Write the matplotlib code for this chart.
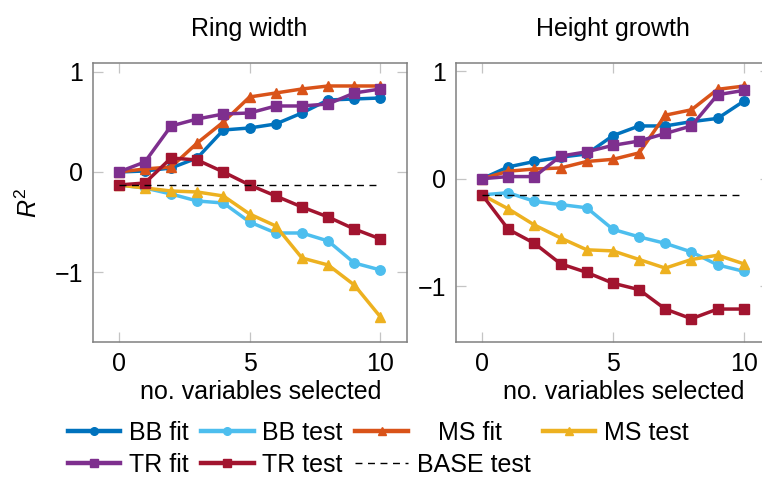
import numpy as np
import matplotlib
matplotlib.use("Agg")
import matplotlib.pyplot as plt

plt.rcParams['font.family'] = ['Liberation Sans', 'DejaVu Sans']
plt.rcParams['mathtext.fontset'] = 'custom'
plt.rcParams['mathtext.rm'] = 'Liberation Sans'
plt.rcParams['mathtext.it'] = 'Liberation Sans:italic'
plt.rcParams['font.size'] = 18

n_vars = np.arange(11)

# Ring width panel
rw_bb_fit = [0, 0.01, 0.04, 0.14, 0.42, 0.44, 0.48, 0.59, 0.72, 0.73, 0.74]
rw_bb_test = [-0.13, -0.16, -0.22, -0.29, -0.31, -0.50, -0.61, -0.61, -0.69, -0.91, -0.98]
rw_ms_fit = [0, 0.03, 0.05, 0.29, 0.50, 0.75, 0.79, 0.83, 0.86, 0.86, 0.86]
rw_ms_test = [-0.13, -0.16, -0.19, -0.20, -0.24, -0.42, -0.54, -0.86, -0.93, -1.13, -1.45]
rw_tr_fit = [0, 0.10, 0.46, 0.53, 0.58, 0.59, 0.66, 0.66, 0.68, 0.79, 0.83]
rw_tr_test = [-0.13, -0.11, 0.14, 0.12, 0.0, -0.13, -0.24, -0.35, -0.45, -0.57, -0.67]
rw_base = -0.13

# Height growth panel
hg_bb_fit = [0, 0.11, 0.16, 0.20, 0.23, 0.40, 0.49, 0.49, 0.53, 0.56, 0.72]
hg_bb_test = [-0.15, -0.13, -0.21, -0.24, -0.27, -0.47, -0.54, -0.60, -0.68, -0.80, -0.86]
hg_ms_fit = [0, 0.07, 0.09, 0.10, 0.16, 0.18, 0.24, 0.59, 0.64, 0.83, 0.86]
hg_ms_test = [-0.15, -0.28, -0.43, -0.55, -0.66, -0.67, -0.75, -0.83, -0.75, -0.71, -0.79]
hg_tr_fit = [0, 0.02, 0.02, 0.21, 0.25, 0.31, 0.35, 0.42, 0.49, 0.78, 0.82]
hg_tr_test = [-0.15, -0.47, -0.60, -0.79, -0.87, -0.97, -1.03, -1.21, -1.30, -1.21, -1.21]
hg_base = -0.15

labels = ['BB fit', 'BB test', '   MS fit', 'MS test', 'TR fit', 'TR test']
colors = ['#0072BD', '#4DBEEE', '#D95319', '#EDB120', '#7E2F8E', '#A2142F']
markers = ['o', 'o', '^', '^', 's', 's']


def draw_panel(ax, series, base, title, ylim):
    """draws one panel of R2 curves"""
    handles = []
    for vals, lab, col, mk in zip(series, labels, colors, markers):
        h, = ax.plot(n_vars, vals, color=col, marker=mk, lw=2.5,
                     ms=6.8, mec=col, mfc=col, label=lab)
        handles.append(h)
    hb, = ax.plot([n_vars[0], n_vars[-1]], [base, base], color='black',
                  lw=1.0, ls=(0, (5, 4)), label='BASE test')
    handles.append(hb)
    ax.set_xlim(-1, 11)
    ax.set_ylim(*ylim)
    ax.set_xticks([0, 5, 10])
    ax.set_yticks([-1, 0, 1])
    ax.tick_params(direction='in', length=7, width=0.9, color='#c4c4c4',
                   top=True, right=True, labelsize=18, pad=7)
    for s in ax.spines.values():
        s.set_color('#808080')
        s.set_linewidth(1.1)
    ax.set_title(title, fontsize=18, pad=20)
    ax.set_xlabel('no. variables selected', fontsize=18)
    ax.xaxis.set_label_coords(0.535, -0.135)
    return handles


fig = plt.figure(figsize=(7.62, 4.78), dpi=100)
ax1 = fig.add_axes([0.1214, 0.2845, 0.4123, 0.5827])
ax2 = fig.add_axes([0.5984, 0.2845, 0.4120, 0.5827])

h = draw_panel(ax1, [rw_bb_fit, rw_bb_test, rw_ms_fit, rw_ms_test, rw_tr_fit, rw_tr_test],
               rw_base, 'Ring width', (-1.70, 1.085))
draw_panel(ax2, [hg_bb_fit, hg_bb_test, hg_ms_fit, hg_ms_test, hg_tr_fit, hg_tr_test],
           hg_base, 'Height growth', (-1.516, 1.07))
ax1.set_ylabel(r'$R^2$', fontsize=18, labelpad=9)

# legend filled column by column, so reorder to get two rows
order = [0, 4, 1, 5, 2, 6, 3]
leg = fig.legend([h[i] for i in order], [h[i].get_label() for i in order],
                 loc='upper left', bbox_to_anchor=(0.089, 0.119), ncol=4,
                 frameon=False, fontsize=18, handlelength=2.1, handletextpad=0.35,
                 columnspacing=0.5, labelspacing=0.3, borderpad=0, borderaxespad=0)
for line in leg.get_lines():
    if line.get_linestyle() == '-':
        line.set_linewidth(3.2)
        line.set_markersize(5.5)

fig.savefig('out.png', dpi=100)
